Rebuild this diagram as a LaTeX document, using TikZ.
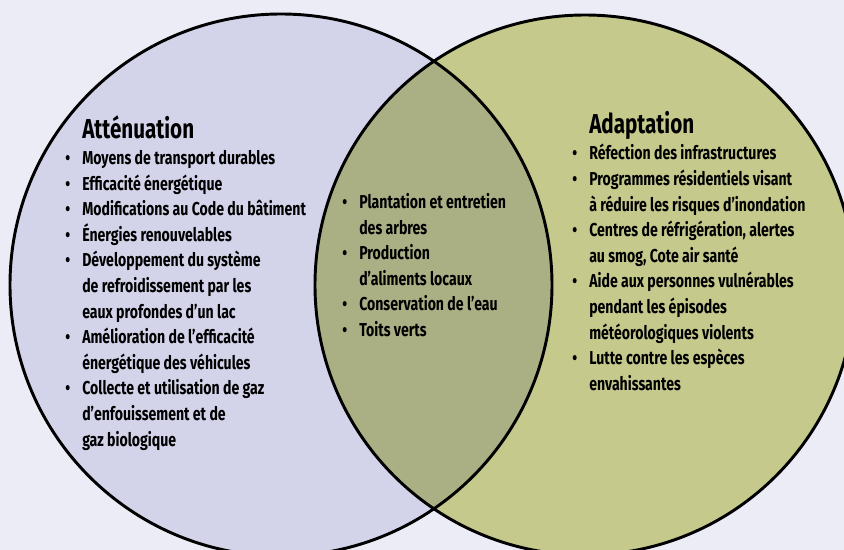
\documentclass[tikz,border=0pt]{standalone}
\usepackage{fontspec}
\setmainfont[FakeStretch=0.755]{Fira Sans}
\usetikzlibrary{positioning}
\definecolor{bgcol}{RGB}{236,236,246}
\definecolor{attcol}{RGB}{211,211,234}
\definecolor{adacol}{RGB}{197,201,139}
\definecolor{bothcol}{RGB}{171,176,132}
\tikzset{
  listbox/.style={anchor=north west, inner sep=0pt, align=left,
    font=\fontsize{14}{19.2}\selectfont\bfseries},
  titlebox/.style={anchor=base west, inner sep=0pt,
    font=\fontsize{20.5}{22}\selectfont\bfseries},
  venn/.style={draw=black, line width=2.2pt},
}
\newcommand{\itm}{\makebox[12.75pt][l]{\textbullet}}
\newcommand{\cnt}{\hspace*{12.75pt}}
\begin{document}
\begin{tikzpicture}[x=0.75pt,y=-0.75pt]
        % fond
        \fill[bgcol] (0,0) rectangle (844,550);
        \useasboundingbox (0,0) rectangle (844,550);
        % cercles
        \coordinate (attc) at (281,285);
        \coordinate (adac) at (585,285);
        \fill[attcol] (attc) circle [radius=203.25pt];
        \fill[adacol] (adac) circle [radius=202.5pt];
        \begin{scope}
          \clip (attc) circle [radius=203.25pt];
          \fill[bothcol] (adac) circle [radius=202.5pt];
        \end{scope}
        \draw[venn] (attc) circle [radius=203.25pt];
        \draw[venn] (adac) circle [radius=202.5pt];
        % titres
        \node[titlebox] (atttitle) at (82,138) {Atténuation};
        \node[titlebox] (adatitle) at (589,133) {Adaptation};
        % listes
        \node[listbox] (attlist) at (65,150) {%
          \itm Moyens de transport durables\\
          \itm Efficacité énergétique\\
          \itm Modifications au Code du bâtiment\\
          \itm Énergies renouvelables\\
          \itm Développement du système\\
          \cnt de refroidissement par les\\
          \cnt eaux profondes d’un lac\\
          \itm Amélioration de l’efficacité\\
          \cnt énergétique des véhicules\\
          \itm Collecte et utilisation de gaz\\
          \cnt d’enfouissement et de\\
          \cnt gaz biologique};
        \node[listbox] (bothlist) at (342,193) {%
          \itm Plantation et entretien\\
          \cnt des arbres\\
          \itm Production\\
          \cnt d’aliments locaux\\
          \itm Conservation de l’eau\\
          \itm Toits verts};
        \node[listbox] (adalist) at (572,144) {%
          \itm Réfection des infrastructures\\
          \itm Programmes résidentiels visant\\
          \cnt à réduire les risques d’inondation\\
          \itm Centres de réfrigération, alertes\\
          \cnt au smog, Cote air santé\\
          \itm Aide aux personnes vulnérables\\
          \cnt pendant les épisodes\\
          \cnt météorologiques violents\\
          \itm Lutte contre les espèces\\
          \cnt envahissantes};
\end{tikzpicture}
\end{document}
